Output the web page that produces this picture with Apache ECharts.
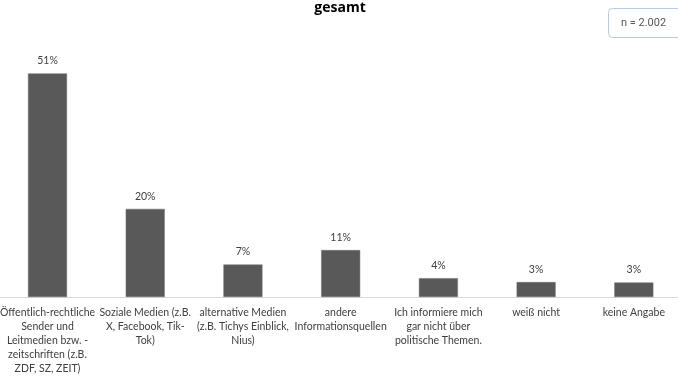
<!DOCTYPE html>
<html><head><meta charset="utf-8">
<script src="https://cdn.jsdelivr.net/npm/echarts@6/dist/echarts.min.js"></script>
<style>html,body{margin:0;padding:0;background:#fff;overflow:hidden;width:678px;height:381px;position:relative}#c{position:absolute;left:-3px;top:0;width:686px;height:381px}</style>
</head><body><div id="c"></div>
<script>
const titleText = 'gesamt';
const sampleNote = 'n = 2.002';
const categories = [
  'Öffentlich-rechtliche\nSender und\nLeitmedien bzw. -\nzeitschriften (z.B.\nZDF, SZ, ZEIT)',
  'Soziale Medien (z.B.\nX, Facebook, Tik-\nTok)',
  'alternative Medien\n(z.B. Tichys Einblick,\nNius)',
  'andere\nInformationsquellen',
  'Ich informiere mich\ngar nicht über\npolitische Themen.',
  'weiß nicht',
  'keine Angabe'
];
const values = [51.0, 20.1, 7.4, 10.7, 4.3, 3.4, 3.3];

const chart = echarts.init(document.getElementById('c'), null, {renderer: 'canvas'});
chart.setOption({
  animation: false,
  backgroundColor: '#ffffff',
  title: {
    text: titleText, left: 'center', top: -4,
    textStyle: {fontFamily: 'Open Sans', fontSize: 14, fontWeight: 'bold', color: '#000'}
  },
  graphic: [{
    type: 'group', left: 611, top: 8,
    children: [
      {type: 'rect', shape: {x: 0, y: 0, width: 80, height: 29, r: 4},
       style: {fill: '#fff', stroke: '#b4cce6', lineWidth: 1}},
      {type: 'text', x: 35, y: 14.5,
       style: {text: sampleNote, fill: '#595959', fontFamily: 'Roboto', fontSize: 11, align: 'center', verticalAlign: 'middle'}}
    ]
  }],
  grid: {left: 0.4, right: 0.3, top: 34, bottom: 84, containLabel: false},
  xAxis: {
    type: 'category', data: categories,
    axisLine: {lineStyle: {color: '#d9d9d9', width: 1}},
    axisTick: {show: false},
    axisLabel: {
      interval: 0, margin: 9, color: '#404040',
      fontFamily: 'Lato', fontSize: 10.5, lineHeight: 14, align: 'center'
    }
  },
  yAxis: {
    type: 'value', min: 0, max: 60, show: false,
    splitLine: {show: false}
  },
  series: [{
    type: 'bar', data: values, barWidth: 39,
    itemStyle: {color: '#595959', borderColor: '#6e6e6e', borderWidth: 0.5},
    label: {
      show: true, position: 'top', distance: 7,
      formatter: p => Math.round(p.value) + '%',
      color: '#404040', fontFamily: 'Lato', fontSize: 10.5
    }
  }]
});
</script></body></html>
